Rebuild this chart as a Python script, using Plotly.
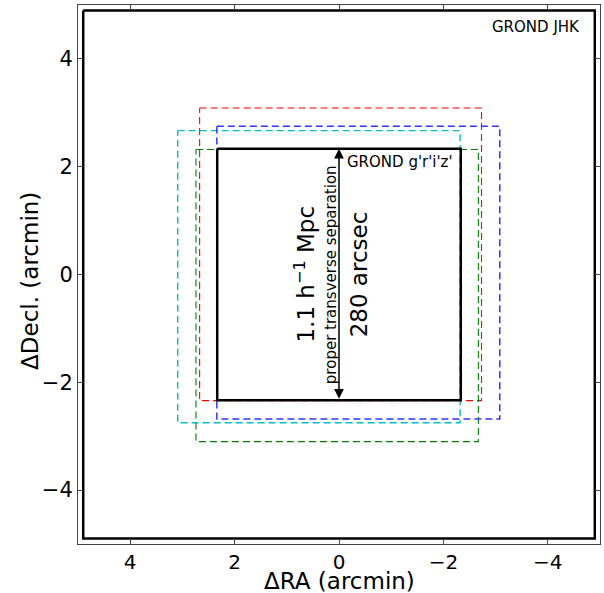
import plotly.graph_objects as go

# Field boxes as [x_left, x_right, y_bottom, y_top] in arcmin
jhk_box = [4.9, -4.9, -4.9, 4.9]
opt_box = [2.333, -2.333, -2.333, 2.333]
red_box = [2.67, -2.73, -2.34, 3.09]
blue_box = [2.34, -3.08, -2.68, 2.75]
cyan_box = [3.09, -2.32, -2.75, 2.67]
green_box = [2.74, -2.67, -3.10, 2.32]

# separation arrow (arcmin)
arrow_x = 0.0
arrow_y = [-2.333, 2.333]

x_ticks = [4, 2, 0, -2, -4]
y_ticks = [-4, -2, 0, 2, 4]

FONT = "DejaVu Sans"


def box_xy(b):
    x0, x1, y0, y1 = b
    return [x0, x1, x1, x0, x0], [y1, y1, y0, y0, y1]


fig = go.Figure()

for b, col, w, dash in [
    (red_box, "#ff0000", 1.1, "7px,4px"),
    (cyan_box, "#00bfbf", 1.4, "7px,4px"),
    (green_box, "#008000", 1.1, "7px,4px"),
    (blue_box, "#3333ff", 1.5, "7px,4px"),
]:
    xs, ys = box_xy(b)
    fig.add_trace(go.Scatter(x=xs, y=ys, mode="lines",
                             line=dict(color=col, width=w, dash=dash),
                             hoverinfo="skip", showlegend=False))

for b in (jhk_box, opt_box):
    xs, ys = box_xy(b)
    fig.add_trace(go.Scatter(x=xs, y=ys, mode="lines",
                             line=dict(color="black", width=2.5),
                             hoverinfo="skip", showlegend=False))

annos = [
    dict(x=arrow_x, y=arrow_y[1], ax=arrow_x, ay=arrow_y[0], xref="x", yref="y",
         axref="x", ayref="y", text="", showarrow=True, arrowside="end+start",
         arrowhead=2, arrowsize=1.3, arrowwidth=1.5, arrowcolor="black",
         standoff=0, startstandoff=0),
    dict(x=0.67, y=0, xref="x", yref="y", text="1.1 h<sup>−1</sup> Mpc",
         textangle=-90, showarrow=False, font=dict(family=FONT, size=23, color="black")),
    dict(x=0.16, y=0, xref="x", yref="y", text="proper transverse separation",
         textangle=-90, showarrow=False, font=dict(family=FONT, size=15, color="black")),
    dict(x=-0.38, y=0, xref="x", yref="y", text="280 arcsec",
         textangle=-90, showarrow=False, font=dict(family=FONT, size=23, color="black")),
    dict(x=-2.22, y=2.08, xref="x", yref="y", text="GROND g'r'i'z'", xanchor="right",
         showarrow=False, font=dict(family=FONT, size=15, color="black")),
    dict(x=-4.66, y=4.6, xref="x", yref="y", text="GROND JHK", xanchor="right",
         showarrow=False, font=dict(family=FONT, size=15, color="black")),
    dict(x=0.5, y=-0.068, xref="paper", yref="paper", text="ΔRA (arcmin)",
         showarrow=False, yanchor="middle", borderpad=0,
         font=dict(family=FONT, size=23, color="black")),
    dict(x=-0.092, y=0.488, xref="paper", yref="paper", text="ΔDecl. (arcmin)",
         textangle=-90, showarrow=False, xanchor="center", borderpad=0,
         font=dict(family=FONT, size=23, color="black")),
]

axis_common = dict(showgrid=False, zeroline=False, showline=True, linecolor="#444",
                   linewidth=1, mirror="allticks", ticks="inside", ticklen=5,
                   tickwidth=1, tickcolor="#444", automargin=False)

fig.update_layout(
    width=604, height=593,
    margin=dict(l=78, r=4, t=5, b=49, autoexpand=False),
    paper_bgcolor="white", plot_bgcolor="white",
    annotations=annos,
    xaxis=dict(range=[5, -5], tickvals=x_ticks,
               tickfont=dict(family=FONT, size=20, color="black"), **axis_common),
    yaxis=dict(range=[-5, 5], tickvals=y_ticks,
               tickfont=dict(family=FONT, size=21, color="black"), **axis_common),
    showlegend=False,
)

fig.write_html("out.html", config={"displayModeBar": False},
               post_script="document.body.style.margin='0';document.body.style.overflow='hidden';")
